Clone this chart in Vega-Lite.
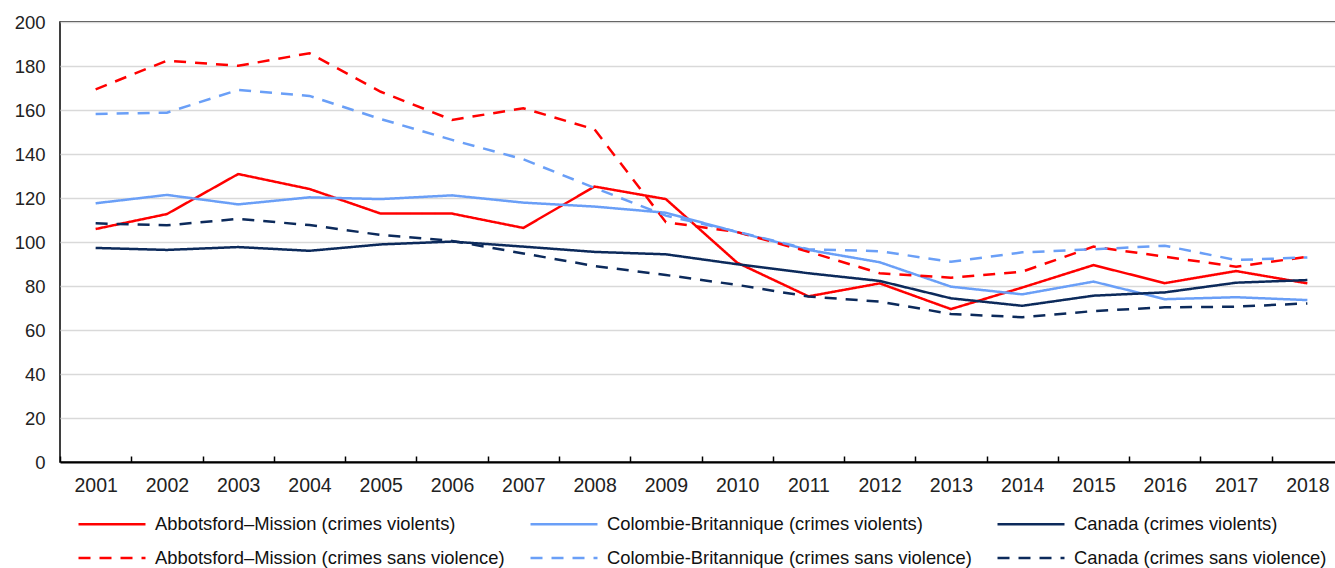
{
  "$schema": "https://vega.github.io/schema/vega-lite/v6.json",
  "width": 1283,
  "height": 440,
  "autosize": {"type": "none"},
  "padding": {"left": 60, "top": 22, "right": -8, "bottom": 106},
  "background": "white",
  "config": {"view": {"stroke": "#000", "strokeWidth": 1.5}},
  "datasets": {
    "d": [
      {"annee": "2001", "serie": "Abbotsford–Mission (crimes violents)", "valeur": 105.9},
      {"annee": "2002", "serie": "Abbotsford–Mission (crimes violents)", "valeur": 112.7},
      {"annee": "2003", "serie": "Abbotsford–Mission (crimes violents)", "valeur": 130.9},
      {"annee": "2004", "serie": "Abbotsford–Mission (crimes violents)", "valeur": 124.1},
      {"annee": "2005", "serie": "Abbotsford–Mission (crimes violents)", "valeur": 112.9},
      {"annee": "2006", "serie": "Abbotsford–Mission (crimes violents)", "valeur": 112.9},
      {"annee": "2007", "serie": "Abbotsford–Mission (crimes violents)", "valeur": 106.4},
      {"annee": "2008", "serie": "Abbotsford–Mission (crimes violents)", "valeur": 125.2},
      {"annee": "2009", "serie": "Abbotsford–Mission (crimes violents)", "valeur": 119.5},
      {"annee": "2010", "serie": "Abbotsford–Mission (crimes violents)", "valeur": 90.6},
      {"annee": "2011", "serie": "Abbotsford–Mission (crimes violents)", "valeur": 75.3},
      {"annee": "2012", "serie": "Abbotsford–Mission (crimes violents)", "valeur": 81.2},
      {"annee": "2013", "serie": "Abbotsford–Mission (crimes violents)", "valeur": 69.5},
      {"annee": "2014", "serie": "Abbotsford–Mission (crimes violents)", "valeur": 79.3},
      {"annee": "2015", "serie": "Abbotsford–Mission (crimes violents)", "valeur": 89.5},
      {"annee": "2016", "serie": "Abbotsford–Mission (crimes violents)", "valeur": 81.3},
      {"annee": "2017", "serie": "Abbotsford–Mission (crimes violents)", "valeur": 86.8},
      {"annee": "2018", "serie": "Abbotsford–Mission (crimes violents)", "valeur": 81.2},

      {"annee": "2001", "serie": "Colombie-Britannique (crimes violents)", "valeur": 117.6},
      {"annee": "2002", "serie": "Colombie-Britannique (crimes violents)", "valeur": 121.4},
      {"annee": "2003", "serie": "Colombie-Britannique (crimes violents)", "valeur": 117.1},
      {"annee": "2004", "serie": "Colombie-Britannique (crimes violents)", "valeur": 120.3},
      {"annee": "2005", "serie": "Colombie-Britannique (crimes violents)", "valeur": 119.5},
      {"annee": "2006", "serie": "Colombie-Britannique (crimes violents)", "valeur": 121.2},
      {"annee": "2007", "serie": "Colombie-Britannique (crimes violents)", "valeur": 117.9},
      {"annee": "2008", "serie": "Colombie-Britannique (crimes violents)", "valeur": 116.1},
      {"annee": "2009", "serie": "Colombie-Britannique (crimes violents)", "valeur": 113.3},
      {"annee": "2010", "serie": "Colombie-Britannique (crimes violents)", "valeur": 104.5},
      {"annee": "2011", "serie": "Colombie-Britannique (crimes violents)", "valeur": 96.4},
      {"annee": "2012", "serie": "Colombie-Britannique (crimes violents)", "valeur": 90.8},
      {"annee": "2013", "serie": "Colombie-Britannique (crimes violents)", "valeur": 79.7},
      {"annee": "2014", "serie": "Colombie-Britannique (crimes violents)", "valeur": 76.2},
      {"annee": "2015", "serie": "Colombie-Britannique (crimes violents)", "valeur": 82.0},
      {"annee": "2016", "serie": "Colombie-Britannique (crimes violents)", "valeur": 74.0},
      {"annee": "2017", "serie": "Colombie-Britannique (crimes violents)", "valeur": 74.9},
      {"annee": "2018", "serie": "Colombie-Britannique (crimes violents)", "valeur": 73.6},

      {"annee": "2001", "serie": "Canada (crimes violents)", "valeur": 97.3},
      {"annee": "2002", "serie": "Canada (crimes violents)", "valeur": 96.4},
      {"annee": "2003", "serie": "Canada (crimes violents)", "valeur": 97.7},
      {"annee": "2004", "serie": "Canada (crimes violents)", "valeur": 96.0},
      {"annee": "2005", "serie": "Canada (crimes violents)", "valeur": 98.9},
      {"annee": "2006", "serie": "Canada (crimes violents)", "valeur": 100.2},
      {"annee": "2007", "serie": "Canada (crimes violents)", "valeur": 97.9},
      {"annee": "2008", "serie": "Canada (crimes violents)", "valeur": 95.5},
      {"annee": "2009", "serie": "Canada (crimes violents)", "valeur": 94.4},
      {"annee": "2010", "serie": "Canada (crimes violents)", "valeur": 89.9},
      {"annee": "2011", "serie": "Canada (crimes violents)", "valeur": 85.8},
      {"annee": "2012", "serie": "Canada (crimes violents)", "valeur": 82.3},
      {"annee": "2013", "serie": "Canada (crimes violents)", "valeur": 74.4},
      {"annee": "2014", "serie": "Canada (crimes violents)", "valeur": 71.0},
      {"annee": "2015", "serie": "Canada (crimes violents)", "valeur": 75.6},
      {"annee": "2016", "serie": "Canada (crimes violents)", "valeur": 77.1},
      {"annee": "2017", "serie": "Canada (crimes violents)", "valeur": 81.5},
      {"annee": "2018", "serie": "Canada (crimes violents)", "valeur": 82.7},

      {"annee": "2001", "serie": "Abbotsford–Mission (crimes sans violence)", "valeur": 169.4},
      {"annee": "2002", "serie": "Abbotsford–Mission (crimes sans violence)", "valeur": 182.4},
      {"annee": "2003", "serie": "Abbotsford–Mission (crimes sans violence)", "valeur": 180.1},
      {"annee": "2004", "serie": "Abbotsford–Mission (crimes sans violence)", "valeur": 185.8},
      {"annee": "2005", "serie": "Abbotsford–Mission (crimes sans violence)", "valeur": 168.3},
      {"annee": "2006", "serie": "Abbotsford–Mission (crimes sans violence)", "valeur": 155.5},
      {"annee": "2007", "serie": "Abbotsford–Mission (crimes sans violence)", "valeur": 160.8},
      {"annee": "2008", "serie": "Abbotsford–Mission (crimes sans violence)", "valeur": 151.2},
      {"annee": "2009", "serie": "Abbotsford–Mission (crimes sans violence)", "valeur": 109.0},
      {"annee": "2010", "serie": "Abbotsford–Mission (crimes sans violence)", "valeur": 104.5},
      {"annee": "2011", "serie": "Abbotsford–Mission (crimes sans violence)", "valeur": 95.6},
      {"annee": "2012", "serie": "Abbotsford–Mission (crimes sans violence)", "valeur": 85.8},
      {"annee": "2013", "serie": "Abbotsford–Mission (crimes sans violence)", "valeur": 83.8},
      {"annee": "2014", "serie": "Abbotsford–Mission (crimes sans violence)", "valeur": 86.5},
      {"annee": "2015", "serie": "Abbotsford–Mission (crimes sans violence)", "valeur": 97.9},
      {"annee": "2016", "serie": "Abbotsford–Mission (crimes sans violence)", "valeur": 93.3},
      {"annee": "2017", "serie": "Abbotsford–Mission (crimes sans violence)", "valeur": 88.8},
      {"annee": "2018", "serie": "Abbotsford–Mission (crimes sans violence)", "valeur": 93.3},

      {"annee": "2001", "serie": "Colombie-Britannique (crimes sans violence)", "valeur": 158.2},
      {"annee": "2002", "serie": "Colombie-Britannique (crimes sans violence)", "valeur": 158.8},
      {"annee": "2003", "serie": "Colombie-Britannique (crimes sans violence)", "valeur": 169.1},
      {"annee": "2004", "serie": "Colombie-Britannique (crimes sans violence)", "valeur": 166.4},
      {"annee": "2005", "serie": "Colombie-Britannique (crimes sans violence)", "valeur": 155.9},
      {"annee": "2006", "serie": "Colombie-Britannique (crimes sans violence)", "valeur": 146.4},
      {"annee": "2007", "serie": "Colombie-Britannique (crimes sans violence)", "valeur": 137.6},
      {"annee": "2008", "serie": "Colombie-Britannique (crimes sans violence)", "valeur": 124.6},
      {"annee": "2009", "serie": "Colombie-Britannique (crimes sans violence)", "valeur": 112.0},
      {"annee": "2010", "serie": "Colombie-Britannique (crimes sans violence)", "valeur": 104.7},
      {"annee": "2011", "serie": "Colombie-Britannique (crimes sans violence)", "valeur": 96.7},
      {"annee": "2012", "serie": "Colombie-Britannique (crimes sans violence)", "valeur": 95.8},
      {"annee": "2013", "serie": "Colombie-Britannique (crimes sans violence)", "valeur": 91.0},
      {"annee": "2014", "serie": "Colombie-Britannique (crimes sans violence)", "valeur": 95.3},
      {"annee": "2015", "serie": "Colombie-Britannique (crimes sans violence)", "valeur": 96.7},
      {"annee": "2016", "serie": "Colombie-Britannique (crimes sans violence)", "valeur": 98.3},
      {"annee": "2017", "serie": "Colombie-Britannique (crimes sans violence)", "valeur": 91.8},
      {"annee": "2018", "serie": "Colombie-Britannique (crimes sans violence)", "valeur": 93.0},

      {"annee": "2001", "serie": "Canada (crimes sans violence)", "valeur": 108.5},
      {"annee": "2002", "serie": "Canada (crimes sans violence)", "valeur": 107.6},
      {"annee": "2003", "serie": "Canada (crimes sans violence)", "valeur": 110.5},
      {"annee": "2004", "serie": "Canada (crimes sans violence)", "valeur": 107.7},
      {"annee": "2005", "serie": "Canada (crimes sans violence)", "valeur": 103.2},
      {"annee": "2006", "serie": "Canada (crimes sans violence)", "valeur": 100.5},
      {"annee": "2007", "serie": "Canada (crimes sans violence)", "valeur": 94.8},
      {"annee": "2008", "serie": "Canada (crimes sans violence)", "valeur": 89.1},
      {"annee": "2009", "serie": "Canada (crimes sans violence)", "valeur": 85.0},
      {"annee": "2010", "serie": "Canada (crimes sans violence)", "valeur": 80.5},
      {"annee": "2011", "serie": "Canada (crimes sans violence)", "valeur": 75.2},
      {"annee": "2012", "serie": "Canada (crimes sans violence)", "valeur": 72.9},
      {"annee": "2013", "serie": "Canada (crimes sans violence)", "valeur": 67.3},
      {"annee": "2014", "serie": "Canada (crimes sans violence)", "valeur": 65.8},
      {"annee": "2015", "serie": "Canada (crimes sans violence)", "valeur": 68.6},
      {"annee": "2016", "serie": "Canada (crimes sans violence)", "valeur": 70.3},
      {"annee": "2017", "serie": "Canada (crimes sans violence)", "valeur": 70.6},
      {"annee": "2018", "serie": "Canada (crimes sans violence)", "valeur": 72.1}
    ]
  },
  "data": {"name": "d"},
  "mark": {"type": "line", "strokeWidth": 2.5},
  "encoding": {
    "x": {
      "field": "annee",
      "type": "ordinal",
      "scale": {"type": "band", "paddingInner": 0, "paddingOuter": 0},
      "axis": {
        "title": null,
        "labelAngle": 0,
        "labelFont": "Liberation Sans",
        "labelFontSize": 19.5,
        "labelColor": "#222",
        "labelPadding": 20,
        "tickBand": "extent",
        "tickSize": -6,
        "tickColor": "#000",
        "tickWidth": 1.5,
        "domainColor": "#000",
        "domainWidth": 2,
        "grid": false
      }
    },
    "y": {
      "field": "valeur",
      "type": "quantitative",
      "scale": {"domain": [0, 200], "nice": false},
      "axis": {
        "title": null,
        "values": [0, 20, 40, 60, 80, 100, 120, 140, 160, 180, 200],
        "labelFont": "Liberation Sans",
        "labelFontSize": 18.5,
        "labelColor": "#222",
        "labelPadding": 15,
        "ticks": false,
        "domain": false,
        "grid": true,
        "gridColor": "#d9d9d9",
        "gridWidth": 1.5
      }
    },
    "color": {
      "field": "serie",
      "type": "nominal",
      "sort": null,
      "scale": {
        "domain": [
          "Abbotsford–Mission (crimes violents)",
          "Colombie-Britannique (crimes violents)",
          "Canada (crimes violents)",
          "Abbotsford–Mission (crimes sans violence)",
          "Colombie-Britannique (crimes sans violence)",
          "Canada (crimes sans violence)"
        ],
        "range": ["#ff0000", "#6a9ff7", "#0c2a5b", "#ff0000", "#6a9ff7", "#0c2a5b"]
      },
      "legend": {
        "title": null,
        "orient": "none",
        "direction": "horizontal",
        "legendX": 34,
        "legendY": 484,
        "columns": 3,
        "symbolType": "M-2,0H2",
        "symbolSize": 1122,
        "symbolStrokeWidth": 2.5,
        "labelFont": "Liberation Sans",
        "labelFontSize": 18.4,
        "labelColor": "#111",
        "labelOffset": 25,
        "labelLimit": 0,
        "columnPadding": 20,
        "rowPadding": 6
      }
    },
    "strokeDash": {
      "field": "serie",
      "type": "nominal",
      "sort": null,
      "scale": {
        "domain": [
          "Abbotsford–Mission (crimes violents)",
          "Colombie-Britannique (crimes violents)",
          "Canada (crimes violents)",
          "Abbotsford–Mission (crimes sans violence)",
          "Colombie-Britannique (crimes sans violence)",
          "Canada (crimes sans violence)"
        ],
        "range": [[1, 0], [1, 0], [1, 0], [12, 9], [12, 9], [12, 9]]
      },
      "legend": {
        "title": null,
        "orient": "none",
        "direction": "horizontal",
        "legendX": 34,
        "legendY": 484,
        "columns": 3,
        "symbolType": "M-2,0H2",
        "symbolSize": 1122,
        "symbolStrokeWidth": 2.5,
        "labelFont": "Liberation Sans",
        "labelFontSize": 18.4,
        "labelColor": "#111",
        "labelOffset": 25,
        "labelLimit": 0,
        "columnPadding": 20,
        "rowPadding": 6
      }
    }
  }
}
